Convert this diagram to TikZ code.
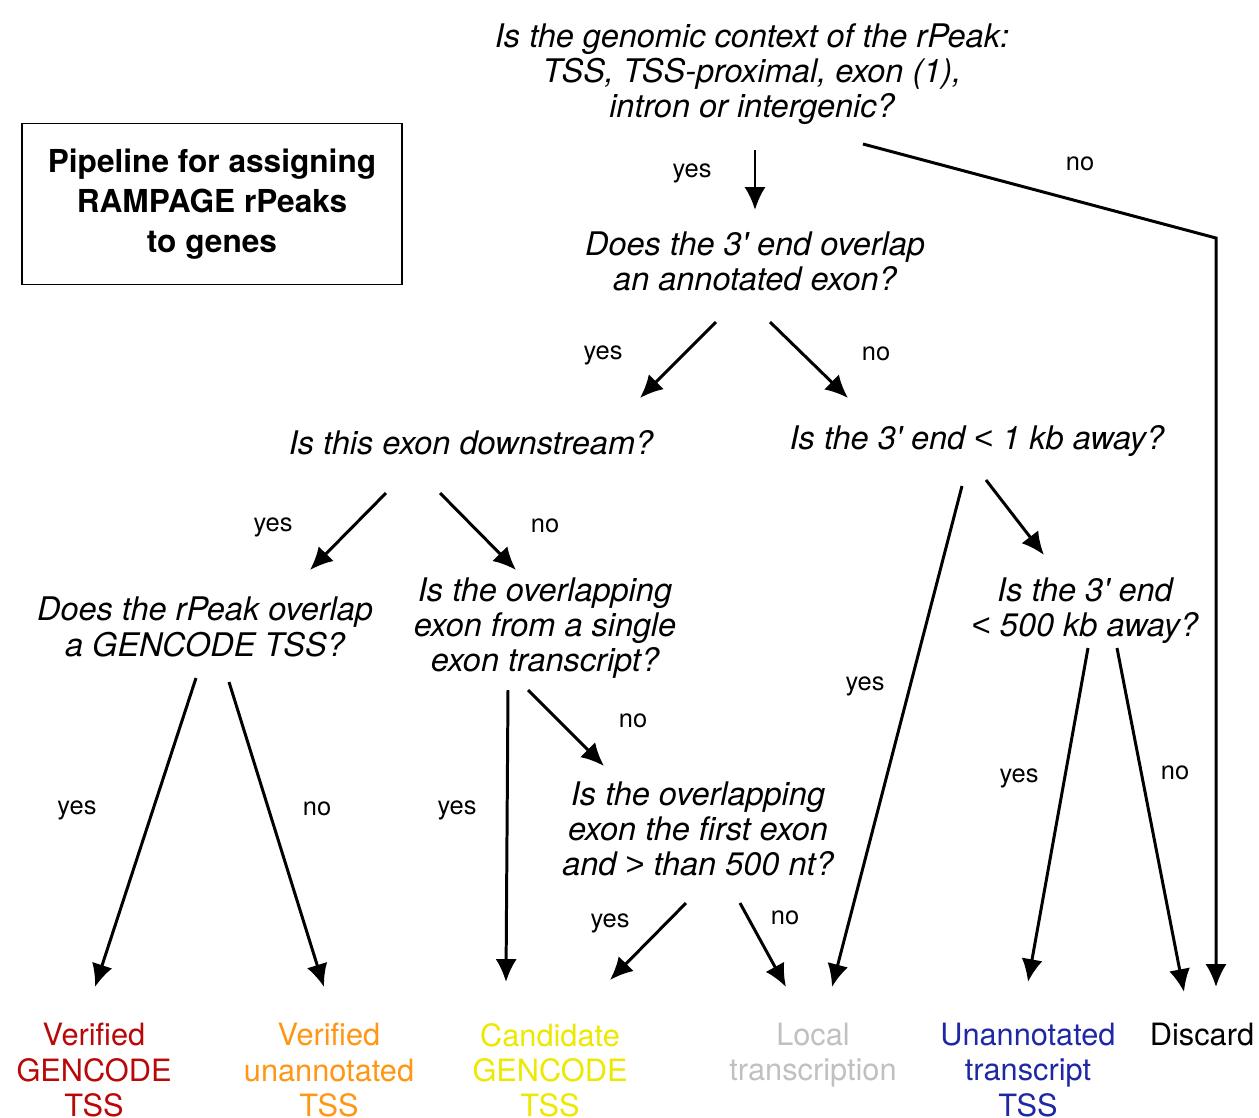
\documentclass[tikz,border=0pt]{standalone}
\usepackage{fontspec}
\setmainfont{TeX Gyre Heros}
\newfontfamily\relfont{Liberation Sans}
\usetikzlibrary{arrows.meta,calc}
\definecolor{verred}{RGB}{185,8,8}
\definecolor{verorange}{RGB}{255,150,20}
\definecolor{candyellow}{RGB}{236,232,0}
\definecolor{localgray}{RGB}{192,192,192}
\definecolor{unblue}{RGB}{30,40,165}
\begin{document}
\begin{tikzpicture}[x=0.02cm,y=-0.02cm,
  question/.style={font=\fontsize{18.5}{20}\selectfont\itshape, align=center, inner sep=0pt},
  answer/.style={font=\fontsize{14.5}{17}\selectfont, inner sep=0pt},
  outcome/.style={font=\fontsize{17.5}{20}\selectfont, align=center, anchor=north, inner sep=0pt},
  arr/.style={-{Latex[length=13pt,width=12pt]}, line width=1.7pt}]
  \useasboundingbox (0,0) rectangle (1259,1117);
  % title box
  \node[draw, line width=1pt, minimum width=7.6cm, minimum height=3.22cm, align=center,
        font=\fontsize{18}{22.7}\selectfont\bfseries] (title) at (212,204)
    {Pipeline for assigning\\RAMPAGE rPeaks\\to genes};
  % questions
  \node[question] (q1) at (752,74) {Is the genomic context of the rPeak:\\TSS, TSS-proximal, exon (1),\\intron or intergenic?};
  \node[question] (q2) at (755,261) {Does the 3\textquotesingle{} end overlap\\an annotated exon?};
  \node[question] (q3) at (471,443) {Is this exon downstream?};
  \node[question] (q4) at (977,441) {Is the 3\textquotesingle{} end {\relfont\upshape <} 1 kb away?};
  \node[question] (q5) at (205,627) {Does the rPeak overlap\\a GENCODE TSS?};
  \node[question] (q6) at (545,628) {Is the overlapping\\exon from a single\\exon transcript?};
  \node[question] (q7) at (1085,611) {Is the 3\textquotesingle{} end\\{\relfont\upshape <} 500 kb away?};
  \node[question] (q8) at (698,829) {Is the overlapping\\exon the first exon\\and {\relfont\upshape >} than 500 nt?};
  % outcomes
  \node[outcome, text=verred] (o1) at (94,1023) {Verified\\GENCODE\\TSS};
  \node[outcome, text=verorange] (o2) at (329,1023) {Verified\\unannotated\\TSS};
  \node[outcome, text=candyellow] (o3) at (550,1023) {Candidate\\GENCODE\\TSS};
  \node[outcome, text=localgray] (o4) at (813,1023) {Local\\transcription};
  \node[outcome, text=unblue] (o5) at (1028,1023) {Unannotated\\transcript\\TSS};
  \node[outcome] (o6) at (1202,1023) {Discard};
  % connectors
  \coordinate (bend) at (1216,238);
  \draw[arr] ($(q1)+(3,76)$) -- ($(q2)+(0,-51)$);
  \draw[arr] ($(q1)+(111,70)$) -- (bend) -- ($(o6.north)+(14,-36)$);
  \draw[arr] ($(q2)+(-39,61)$) -- ($(q3)+(169,-45)$);
  \draw[arr] ($(q2)+(15,61)$) -- ($(q4)+(-129,-43)$);
  \draw[arr] ($(q3)+(-85,50)$) -- ($(q5)+(105,-57)$);
  \draw[arr] ($(q3)+(-31,50)$) -- ($(q6)+(-29,-58)$);
  \draw[arr] ($(q4)+(-15,45)$) -- ($(o4.north)+(19,-36)$);
  \draw[arr] ($(q4)+(9,39)$) -- ($(q7)+(-41,-56)$);
  \draw[arr] ($(q5)+(-9,51)$) -- ($(o1.north)+(1,-36)$);
  \draw[arr] ($(q5)+(24,55)$) -- ($(o2.north)+(-5,-36)$);
  \draw[arr] ($(q6)+(-37,62)$) -- ($(o3.north)+(-44,-41)$);
  \draw[arr] ($(q6)+(-17,62)$) -- ($(q8)+(-94,-63)$);
  \draw[arr] ($(q8)+(-12,74)$) -- ($(o3.north)+(60,-43)$);
  \draw[arr] ($(q8)+(42,74)$) -- ($(o4.north)+(-27,-36)$);
  \draw[arr] ($(q7)+(3,37)$) -- ($(o5.north)+(0,-41)$);
  \draw[arr] ($(q7)+(32,37)$) -- ($(o6.north)+(-18,-31)$);
  % answers
  \node[answer] (a1y) at (692,173) {yes};
  \node[answer] (a1n) at (1080,164) {no};
  \node[answer] (a2y) at (603,355) {yes};
  \node[answer] (a2n) at (876,354) {no};
  \node[answer] (a3y) at (273,527) {yes};
  \node[answer] (a3n) at (545,526) {no};
  \node[answer] (a4y) at (865,686) {yes};
  \node[answer] (a5y) at (77,810) {yes};
  \node[answer] (a5n) at (317,809) {no};
  \node[answer] (a6y) at (457,810) {yes};
  \node[answer] (a6n) at (633,721) {no};
  \node[answer] (a8y) at (610,923) {yes};
  \node[answer] (a8n) at (785,918) {no};
  \node[answer] (a7y) at (1019,778) {yes};
  \node[answer] (a7n) at (1175,773) {no};
\end{tikzpicture}
\end{document}
